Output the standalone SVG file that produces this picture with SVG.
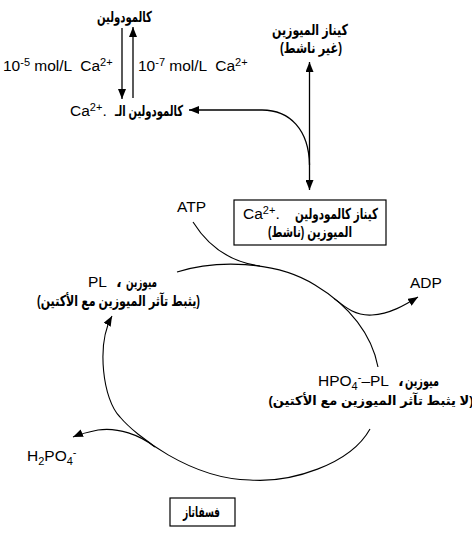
<svg xmlns="http://www.w3.org/2000/svg" width="472" height="535" viewBox="0 0 472 535">
<style>
text{font-family:"Liberation Sans","DejaVu Sans",sans-serif;font-size:15.5px;fill:#000}
.ar{font-weight:bold;font-size:15px}
.ar13{font-weight:bold;font-size:13px}
.sup{font-size:11px;baseline-shift:5.5px}
.sub{font-size:11px;baseline-shift:-4px}
.ln{fill:none;stroke:#000;stroke-width:1.3}
.cy{fill:none;stroke:#000;stroke-width:1.1}
.box{fill:#fff;stroke:#000;stroke-width:1.2}
</style>
<defs>
<marker id="ah" viewBox="0 0 10 8" refX="10" refY="4" markerWidth="10" markerHeight="8" markerUnits="userSpaceOnUse" orient="auto-start-reverse"><path d="M0,0 L10,4 L0,8 z" fill="#000"/></marker>
</defs>
<g id="connectors">
<path class="ln" d="M122,28 L122,99" marker-end="url(#ah)"/>
<path class="ln" d="M133,98 L133,27" marker-end="url(#ah)"/>
<path class="ln" d="M309.5,165 C309,130 290,110 262,110 L189,110" marker-end="url(#ah)"/>
<path class="ln" d="M309.5,62 L309.5,190" marker-start="url(#ah)" marker-end="url(#ah)"/>
<path class="cy" d="M177,272 C215,260 275,260 315,285 C350,306 372,335 378,367"/>
<path class="cy" d="M193,222 C208,246 230,262 260,266"/>
<path class="cy" d="M334,298.5 C346,308 356,316 372,315 C390,314 405,305 418,297" marker-end="url(#ah)"/>
<path class="cy" d="M370,429 C350,465 290,483 250,480 C190,479 135,435 120,417 C103,400 96,345 112,316" marker-end="url(#ah)"/>
<path class="cy" d="M155,447 C140,435 118,427 98,430 C88,432 80,434 73,437" marker-end="url(#ah)"/>
</g>
<g id="calmodulin"><text class="ar" x="97" y="22" textLength="55" lengthAdjust="spacingAndGlyphs">كالمودولين</text></g>
<g id="conc-high"><text x="3" y="71" xml:space="preserve">10<tspan class="sup">-5</tspan> mol/L  Ca<tspan class="sup">2+</tspan></text></g>
<g id="conc-low"><text x="138" y="71" xml:space="preserve">10<tspan class="sup">-7</tspan> mol/L  Ca<tspan class="sup">2+</tspan></text></g>
<g id="ca-calmodulin">
<text x="70" y="116">Ca<tspan class="sup">2+</tspan>.</text>
<text class="ar" x="115" y="116" textLength="68" lengthAdjust="spacingAndGlyphs">كالمودولين الـ</text>
</g>
<g id="mlck-inactive">
<text class="ar" x="272" y="35" textLength="76" lengthAdjust="spacingAndGlyphs">كيناز الميوزين</text>
<text class="ar" x="280" y="53" textLength="62" lengthAdjust="spacingAndGlyphs">(غير ناشط)</text>
</g>
<g id="mlck-active">
<rect class="box" x="234" y="200" width="152" height="45"/>
<text x="243" y="219">Ca<tspan class="sup">2+</tspan>.</text>
<text class="ar" x="295" y="219" textLength="83" lengthAdjust="spacingAndGlyphs">كيناز كالمودولين</text>
<text class="ar" x="268" y="237" textLength="84" lengthAdjust="spacingAndGlyphs" direction="rtl" text-anchor="end">الميوزين (ناشط)</text>
</g>
<g id="atp"><text x="177" y="212">ATP</text></g>
<g id="adp"><text x="410" y="288">ADP</text></g>
<g id="myosin-pl">
<text x="88" y="287">PL</text>
<text class="ar" x="116" y="287">،</text>
<text class="ar" x="126" y="287" textLength="31" lengthAdjust="spacingAndGlyphs">ميوزين</text>
<text class="ar" x="37" y="306" textLength="163" lengthAdjust="spacingAndGlyphs">(يثبط تآثر الميوزين مع الأكتين)</text>
</g>
<g id="myosin-pl-p">
<text x="318" y="386">HPO<tspan class="sub">4</tspan><tspan class="sup">-</tspan>–PL</text>
<text class="ar" x="398" y="386">،</text>
<text class="ar" x="405" y="386" textLength="34" lengthAdjust="spacingAndGlyphs">ميوزين</text>
<text class="ar13" x="371" y="405" text-anchor="middle" direction="rtl">(لا يثبط تآثر الميوزين مع الأكتين)</text>
</g>
<g id="h2po4"><text x="27" y="461">H<tspan class="sub">2</tspan>PO<tspan class="sub">4</tspan><tspan class="sup">-</tspan></text></g>
<g id="phosphatase">
<rect class="box" x="170" y="498" width="65" height="28"/>
<text class="ar" x="183" y="517" textLength="37" lengthAdjust="spacingAndGlyphs">فسفاتاز</text>
</g>
</svg>
